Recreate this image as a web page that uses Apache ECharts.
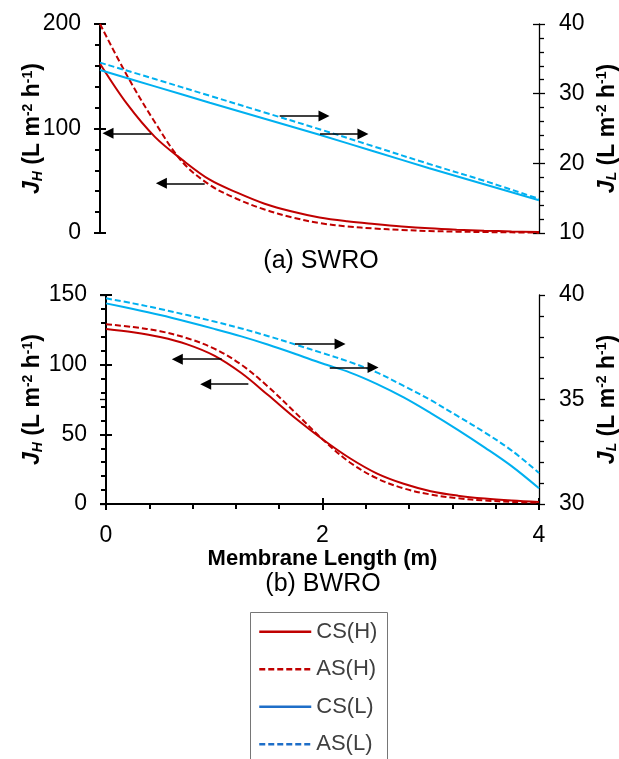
<!DOCTYPE html>
<html><head><meta charset="utf-8">
<script src="https://cdn.jsdelivr.net/npm/echarts@6/dist/echarts.min.js"></script>
<style>html,body{margin:0;padding:0;background:#fff;overflow:hidden}#c{width:619px;height:759px}</style>
</head><body><div id="c"></div>
<script>
// ---------- data ----------
const X_SW_H = [0,0.25,0.5,0.75,1,1.25,1.5,1.75,2,2.25,2.5,2.75,3,3.25,3.5,3.75,4];
const SW_CS_H = [162,123,92,70,51,38.6,28,20.5,14.8,11.2,8.6,6.3,4.5,3.2,2.2,1.5,1];
const SW_AS_H = [200,150,106,68,46,32.5,22.5,15,9.5,6.3,4.3,2.9,1.9,1.3,0.9,0.6,0.3];
const X_SW_L = [0,0.5,1,1.5,2,2.5,3,3.5,4];
const SW_CS_L = [33.4,31.05,28.7,26.4,24.1,21.7,19.3,17.0,14.7];
const SW_AS_L = [34.45,32.1,29.7,27.3,24.9,22.4,19.9,17.5,14.9];

const X_BW = [0,0.25,0.5,0.75,1,1.25,1.5,1.75,2,2.25,2.5,2.75,3,3.25,3.5,3.75,4];
const BW_CS_H = [125.6,123.2,119.8,114.6,106.5,94,78,61.5,46.5,33,22,14.5,9.2,6,3.9,2.5,1.5];
const BW_AS_H = [129,127,124,119,111.5,100,84,65.5,46.5,30,18.5,11.2,6.8,4.1,2.5,1.5,1.0];
const BW_CS_L = [39.6,39.33,39.04,38.72,38.38,38.02,37.62,37.18,36.72,36.3,35.75,35.1,34.35,33.55,32.7,31.8,30.75];
const BW_AS_L = [39.84,39.6,39.33,39.04,38.73,38.4,38.03,37.63,37.22,36.8,36.3,35.65,34.97,34.2,33.42,32.55,31.48];

// annotation arrows: [xFrom, y, xTo, y]
const ARR_SW_H = [[0.467,95.4,0.073,95.4],[0.954,47.6,0.559,47.6]];
const ARR_SW_L = [[1.637,26.8,2.041,26.8],[2.005,24.2,2.396,24.2]];
const ARR_BW_H = [[1.069,103.9,0.659,103.9],[1.315,86,0.921,86]];
const ARR_BW_L = [[1.746,37.66,2.162,37.66],[2.067,36.53,2.467,36.53]];

const NAMES = ['CS(H)','AS(H)','CS(L)','AS(L)'];
const PANEL_TITLES = ['(a) SWRO','(b) BWRO'];
const X_NAME = 'Membrane Length (m)';

// ---------- style ----------
const FONT = 'Liberation Sans';
const RED = '#c00000', BLUE = '#00b0f0', LEG_BLUE = '#1e6ec8';
const DASH = [6,3];

function pairs(xs, ys){ return xs.map((x,i)=>[x, ys[i]]); }
function arrows(list){
  return {
    silent:true, symbol:['none','triangle'], symbolSize:[11,11],
    lineStyle:{color:'#000', width:1.6, type:'solid'},
    label:{show:false}, emphasis:{disabled:true}, animation:false,
    data:list.map(a=>[{coord:[a[0],a[1]]},{coord:[a[2],a[3]]}])
  };
}
function yName(sub){ return '{j|J}{s|'+sub+'}{t| (L m}{p|-2}{t| h}{p|-1}{t|)}'; }
const nameRich = {
  j:{fontSize:23,fontWeight:'bold',fontStyle:'italic',fontFamily:FONT,lineHeight:24,verticalAlign:'middle',color:'#000'},
  s:{fontSize:14,fontWeight:'bold',fontStyle:'italic',fontFamily:FONT,lineHeight:14,verticalAlign:'bottom',color:'#000'},
  t:{fontSize:23,fontWeight:'bold',fontFamily:FONT,lineHeight:24,verticalAlign:'middle',color:'#000'},
  p:{fontSize:14,fontWeight:'bold',fontFamily:FONT,lineHeight:14,verticalAlign:'top',color:'#000'}
};
function valAxis(o){
  const lw = o.lw || 2;
  return Object.assign({
    type:'value', splitLine:{show:false},
    axisLine:{show:true, onZero:false, lineStyle:{color:'#000', width:lw}},
    axisTick:{show:true, inside:false, length:6, lineStyle:{color:'#000', width:lw}},
    minorTick:{show:true, splitNumber:5, length:5, lineStyle:{color:'#000', width:lw}},
    axisLabel:{fontSize:23, fontFamily:FONT, color:'#000', margin:o.margin||19},
  }, o.base);
}
function crossAxis(o){
  return Object.assign({
    type:'value', splitLine:{show:false},
    axisLine:{show:false}, axisLabel:{show:false},
    axisTick:{show:true, inside:true, length:6, lineStyle:{color:'#000', width:o.lw||2}},
    minorTick:{show:false}
  }, o.base);
}

const xAxis = [
  {type:'value', gridIndex:0, min:0, max:4, interval:2, show:false},
  valAxis({margin:20, base:{gridIndex:1, min:0, max:4, interval:2, position:'bottom',
    name:X_NAME, nameLocation:'middle', nameGap:42,
    nameTextStyle:{fontSize:22, fontWeight:'bold', fontFamily:FONT, color:'#000'}}}),
  crossAxis({base:{gridIndex:1, min:0, max:4, interval:2, position:'bottom'}})
];

const yAxis = [
  valAxis({base:{gridIndex:0, position:'left', min:0, max:200, interval:100,
    name:yName('H'), nameLocation:'middle', nameGap:55, nameRotate:90, nameMoveOverlap:false,
    nameTextStyle:{rich:nameRich}}}),
  valAxis({lw:1.3, margin:20, base:{gridIndex:0, position:'right', min:10, max:40, interval:10,
    name:yName('L'), nameLocation:'middle', nameGap:55, nameRotate:90,
    nameTextStyle:{rich:nameRich}}}),
  valAxis({base:{gridIndex:1, position:'left', min:0, max:150, interval:50,
    name:yName('H'), nameLocation:'middle', nameGap:61, nameRotate:90, nameMoveOverlap:false,
    nameTextStyle:{rich:nameRich}}}),
  valAxis({lw:1.3, margin:20, base:{gridIndex:1, position:'right', min:30, max:40, interval:5,
    name:yName('L'), nameLocation:'middle', nameGap:55, nameRotate:90,
    nameTextStyle:{rich:nameRich}}}),
  crossAxis({base:{gridIndex:0, position:'left', min:0, max:200, interval:100}}),
  crossAxis({lw:1.3, base:{gridIndex:0, position:'right', min:10, max:40, interval:10}}),
  crossAxis({base:{gridIndex:1, position:'left', min:0, max:150, interval:50}}),
  crossAxis({lw:1.3, base:{gridIndex:1, position:'right', min:30, max:40, interval:5}})
];

function line(name, data, xi, yi, color, dashed, mark){
  const s = {type:'line', name, data, xAxisIndex:xi, yAxisIndex:yi,
    showSymbol:false, symbol:'none', smooth:0.35, animation:false,
    lineStyle:{color, width:2, type: dashed ? DASH : 'solid'},
    itemStyle:{color}, emphasis:{disabled:true}, z:3};
  if (mark) s.markLine = arrows(mark);
  return s;
}

const series = [
  line(NAMES[0], pairs(X_SW_H, SW_CS_H), 0, 0, RED, false, ARR_SW_H),
  line(NAMES[1], pairs(X_SW_H, SW_AS_H), 0, 0, RED, true),
  line(NAMES[2], pairs(X_SW_L, SW_CS_L), 0, 1, BLUE, false, ARR_SW_L),
  line(NAMES[3], pairs(X_SW_L, SW_AS_L), 0, 1, BLUE, true),
  line(NAMES[0], pairs(X_BW, BW_CS_H), 1, 2, RED, false, ARR_BW_H),
  line(NAMES[1], pairs(X_BW, BW_AS_H), 1, 2, RED, true),
  line(NAMES[2], pairs(X_BW, BW_CS_L), 1, 3, BLUE, false, ARR_BW_L),
  line(NAMES[3], pairs(X_BW, BW_AS_L), 1, 3, BLUE, true)
];

const legendColors = [RED, RED, LEG_BLUE, LEG_BLUE];
const option = {
  backgroundColor:'#fff',
  animation:false,
  grid:[
    {left:100, right:80, top:24, height:209, containLabel:false, outerBoundsMode:'none'},
    {left:106, right:80, top:295, height:209, containLabel:false, outerBoundsMode:'none'}
  ],
  xAxis, yAxis, series,
  legend:{
    orient:'vertical', left:258, top:620.7,
    padding:0, itemGap:15.5, itemWidth:52, itemHeight:22,
    selectedMode:false,
    textStyle:{fontSize:22, fontFamily:FONT, color:'#404040', lineHeight:22},
    data:NAMES.map((n,i)=>({name:n,
      itemStyle:{color:legendColors[i], opacity:0},
      lineStyle:{color:legendColors[i], width:2.5, opacity:1, type:(i%2 ? DASH : 'solid')}}))
  },
  graphic:[
    {type:'text', x:321, y:261, style:{text:PANEL_TITLES[0], fontSize:25, fontFamily:FONT, fill:'#000', align:'center', verticalAlign:'middle'}},
    {type:'text', x:323, y:584, style:{text:PANEL_TITLES[1], fontSize:25, fontFamily:FONT, fill:'#000', align:'center', verticalAlign:'middle'}},
    {type:'rect', shape:{x:250.5, y:612.5, width:137, height:200}, style:{fill:'none', stroke:'#767676', lineWidth:1}}
  ]
};
const chart = echarts.init(document.getElementById('c'), null, {renderer:'canvas'});
chart.setOption(option);
</script>
</body></html>
